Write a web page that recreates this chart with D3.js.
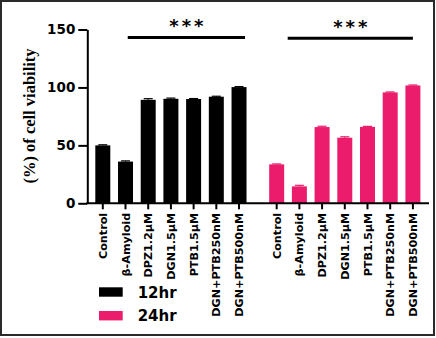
<!DOCTYPE html>
<html>
<head>
    <style>
        body { margin: 0; background: #fff; }
        .axis path, .axis line { stroke: #000; stroke-width: 2px; }
        .ytick text { font: bold 13.5px "DejaVu Sans", sans-serif; fill: #000; }
        .xtick text { font: bold 11.2px "DejaVu Sans", sans-serif; fill: #000; }
        .legend text { font: bold 15px "DejaVu Sans", sans-serif; }
    </style>
</head>
<body>
<script src="https://d3js.org/d3.v7.min.js"></script>
<svg width="436" height="338"></svg>
<script>
    // data
    var categories = ["Control", "\u03b2-Amyloid", "DPZ1.2\u03bcM", "DGN1.5\u03bcM", "PTB1.5\u03bcM", "DGN+PTB250nM", "DGN+PTB500nM"];
    var groups = ["12hr", "24hr"];
    var values12 = [50, 36, 89.3, 90.2, 90, 92, 100.3];
    var errors12 = [0.5, 0.6, 1.0, 0.6, 0.4, 0.4, 0.4];
    var values24 = [33.6, 14.6, 65.8, 56.6, 66, 95.7, 101.7];
    var errors24 = [0.4, 0.9, 0.7, 0.8, 0.4, 0.4, 0.4];
    var yTicks = [0, 50, 100, 150];
    var groupColors = ["#000000", "#eb1c6c"];

    var svg = d3.select("svg");

    // outer frame
    svg.append("rect")
        .attr("x", 1).attr("y", 1)
        .attr("width", 433).attr("height", 334)
        .attr("fill", "#fff")
        .attr("stroke", "#2a2a2a")
        .attr("stroke-width", 2);

    var y = d3.scaleLinear().domain([0, 150]).range([203.3, 29.5]);

    var xGroup = d3.scaleBand()
        .domain(groups)
        .range([91.45, 424.25])
        .paddingInner(0.086);

    var xCat = d3.scaleBand()
        .domain(categories)
        .range([0, xGroup.bandwidth()])
        .paddingInner(0.34)
        .paddingOuter(0.17);

    var dataset = [];
    groups.forEach(function(g, gi) {
        var vals = gi === 0 ? values12 : values24;
        var errs = gi === 0 ? errors12 : errors24;
        categories.forEach(function(c, ci) {
            dataset.push({group: g, cat: c, value: vals[ci], err: errs[ci], color: groupColors[gi]});
        });
    });

    function xPos(d) { return xGroup(d.group) + xCat(d.cat); }

    // bars
    svg.selectAll(".bar")
        .data(dataset)
        .enter().append("rect")
        .attr("class", "bar")
        .attr("x", xPos)
        .attr("y", function(d) { return y(d.value); })
        .attr("width", xCat.bandwidth())
        .attr("height", function(d) { return y(0) - y(d.value); })
        .attr("fill", function(d) { return d.color; });

    // error bars
    var eb = svg.selectAll(".err")
        .data(dataset)
        .enter().append("g")
        .attr("class", "err")
        .attr("stroke", function(d) { return d.color; })
        .attr("stroke-width", 1.2);
    eb.append("line")
        .attr("x1", function(d) { return xPos(d) + xCat.bandwidth() / 2; })
        .attr("x2", function(d) { return xPos(d) + xCat.bandwidth() / 2; })
        .attr("y1", function(d) { return y(d.value); })
        .attr("y2", function(d) { return y(d.value + d.err); });
    eb.append("line")
        .attr("x1", function(d) { return xPos(d) + 3; })
        .attr("x2", function(d) { return xPos(d) + xCat.bandwidth() - 3; })
        .attr("y1", function(d) { return y(d.value + d.err); })
        .attr("y2", function(d) { return y(d.value + d.err); });

    // y axis
    var yAxis = svg.append("g")
        .attr("class", "axis ytick")
        .attr("transform", "translate(87.3,0)")
        .call(d3.axisLeft(y).tickValues(yTicks).tickSize(9).tickPadding(3).tickSizeOuter(0));

    // x axis, one per group
    groups.forEach(function(g) {
        var ax = svg.append("g")
            .attr("class", "axis xtick")
            .attr("transform", "translate(" + xGroup(g) + "," + y(0) + ")")
            .call(d3.axisBottom(xCat).tickSize(6).tickSizeOuter(0));
        ax.select(".domain").remove();
        ax.selectAll("text")
            .attr("transform", "rotate(-90)")
            .attr("text-anchor", "end")
            .attr("x", -9.5)
            .attr("y", 0)
            .attr("dy", "0.36em");
    });
    svg.append("line")
        .attr("x1", 86.3).attr("x2", 429)
        .attr("y1", y(0)).attr("y2", y(0))
        .attr("stroke", "#000").attr("stroke-width", 2);

    // y axis title
    svg.append("text")
        .attr("transform", "translate(35,116) rotate(-90)")
        .attr("text-anchor", "middle")
        .style("font", "bold 16.5px 'Liberation Serif', 'Times New Roman', serif")
        .text("(%) of cell viability");

    // significance bars
    var sig = [
        {group: "12hr", from: "\u03b2-Amyloid", fromOff: 0.65, to: "DGN+PTB500nM", toOff: 0.9, yv: 143},
        {group: "24hr", from: "\u03b2-Amyloid", fromOff: -0.28, to: "DGN+PTB500nM", toOff: 0.5, yv: 142.5}
    ];
    sig.forEach(function(s) {
        var x1 = xGroup(s.group) + xCat(s.from) + s.fromOff * xCat.bandwidth();
        var x2 = xGroup(s.group) + xCat(s.to) + s.toOff * xCat.bandwidth();
        svg.append("line")
            .attr("x1", x1).attr("x2", x2)
            .attr("y1", y(s.yv)).attr("y2", y(s.yv))
            .attr("stroke", "#000").attr("stroke-width", 3);
        svg.append("text")
            .attr("x", (x1 + x2) / 2 + 1.5)
            .attr("y", y(s.yv) - 5.5)
            .attr("text-anchor", "middle")
            .style("font", "bold 18px 'DejaVu Sans', sans-serif")
            .style("letter-spacing", "3px")
            .text("***");
    });

    // legend
    var legend = svg.append("g").attr("class", "legend");
    var li = legend.selectAll("g")
        .data(groups)
        .enter().append("g")
        .attr("transform", function(d, i) { return "translate(99," + (287.3 + i * 23.7) + ")"; });
    li.append("rect")
        .attr("width", 23.7).attr("height", 9.4)
        .attr("fill", function(d, i) { return groupColors[i]; });
    li.append("text")
        .attr("x", 38.7).attr("y", 10.4)
        .text(function(d) { return d; });
</script>
</body>
</html>
